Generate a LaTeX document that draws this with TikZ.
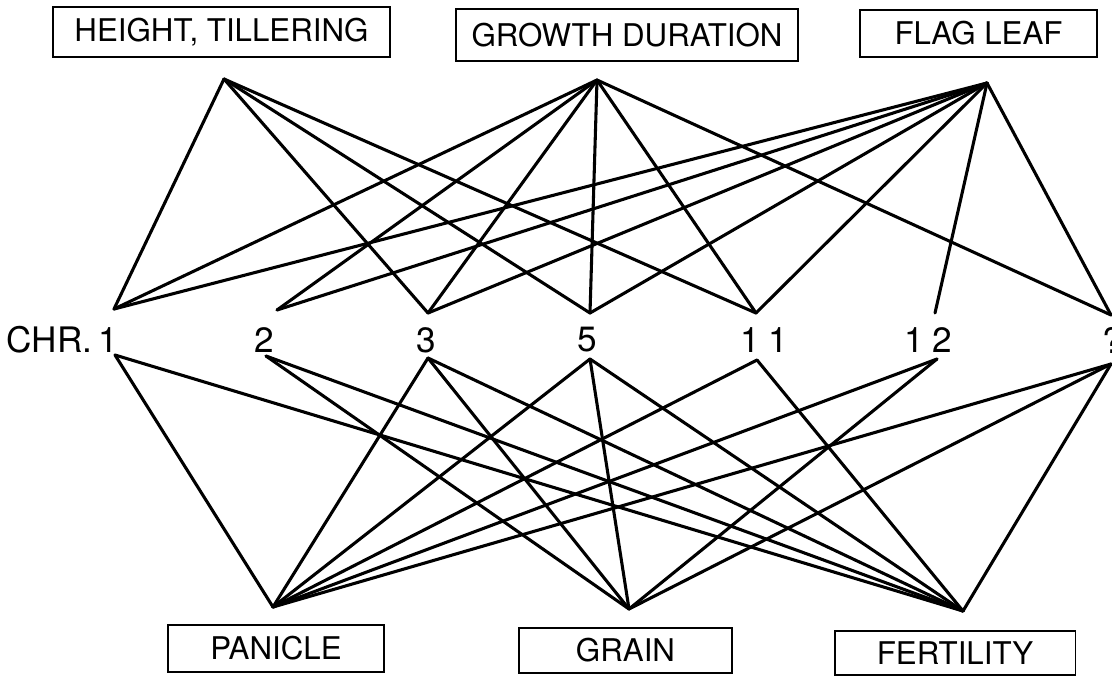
\documentclass[tikz,border=0pt]{standalone}
\usepackage{fontspec}
\setmainfont{TeX Gyre Heros}
\begin{document}
\begin{tikzpicture}[x=0.02cm,y=-0.02cm,
  lbox/.style={draw,line width=1.1pt,inner sep=0pt,font=\fontsize{17.8}{20}\selectfont},
  link/.style={line width=1.75pt,line cap=round,line join=round},
  chr/.style={inner sep=0pt,font=\fontsize{20}{23}\selectfont}]
\useasboundingbox (0,0) rectangle (1112,681);
% top boxes
\node[lbox,minimum width=6.74cm,minimum height=1.0cm] (hbox) at (221.5,32) {HEIGHT, TILLERING};
\node[lbox,minimum width=6.84cm,minimum height=1.04cm] (gbox) at (627,35) {GROWTH DURATION};
\node[lbox,minimum width=4.74cm,minimum height=0.94cm] (fbox) at (978.5,33.5) {FLAG LEAF};
% bottom boxes
\node[lbox,minimum width=4.32cm,minimum height=0.94cm] (pbox) at (276,648.5) {PANICLE};
\node[lbox,minimum width=4.26cm,minimum height=0.9cm] (grbox) at (625.5,650.5) {GRAIN};
\node[lbox,minimum width=4.82cm,minimum height=0.88cm] (febox) at (955,653) {FERTILITY};
% chromosome labels
\node[chr,anchor=east] (c1) at (118,340) {CHR.\,1};
\node[chr] (c2) at (264,340) {2};
\node[chr] (c3) at (426,340) {3};
\node[chr] (c5) at (587,340) {5};
\node[chr] (c11) at (764,340) {1\hspace{5pt}1};
\node[chr] (c12) at (928,340) {1\hspace{5pt}2};
\node[chr,anchor=west] (c7) at (1102,340) {?};
% apexes
\coordinate (H) at (224,79);
\coordinate (G) at (597,80);
\coordinate (F) at (987,83);
\coordinate (P) at (273,607);
\coordinate (Gr) at (629,609);
\coordinate (Fe) at (963,611);
% chromosome top / bottom points
\coordinate (t1) at (114,309);
\coordinate (t2) at (277,310);
\coordinate (t3) at (428,313);
\coordinate (t5) at (590,313);
\coordinate (t11) at (756,313);
\coordinate (t12) at (935,313);
\coordinate (t7) at (1111,315);
\coordinate (b1) at (115,355);
\coordinate (b2) at (266,356);
\coordinate (b3) at (428,358);
\coordinate (b5) at (590,359);
\coordinate (b11) at (757,360);
\coordinate (b12) at (937,359);
\coordinate (b7) at (1111,364);
% upper connectors
\foreach \c in {t1,t3,t5,t11} \draw[link] (H) -- (\c);
\foreach \c in {t1,t2,t3,t5,t11,t7} \draw[link] (G) -- (\c);
\foreach \c in {t1,t2,t3,t5,t11,t12,t7} \draw[link] (F) -- (\c);
% lower connectors
\foreach \c in {b1,b3,b5,b11,b12,b7} \draw[link] (\c) -- (P);
\foreach \c in {b2,b3,b5,b12,b7} \draw[link] (\c) -- (Gr);
\foreach \c in {b1,b2,b3,b5,b11,b7} \draw[link] (\c) -- (Fe);
\end{tikzpicture}
\end{document}
